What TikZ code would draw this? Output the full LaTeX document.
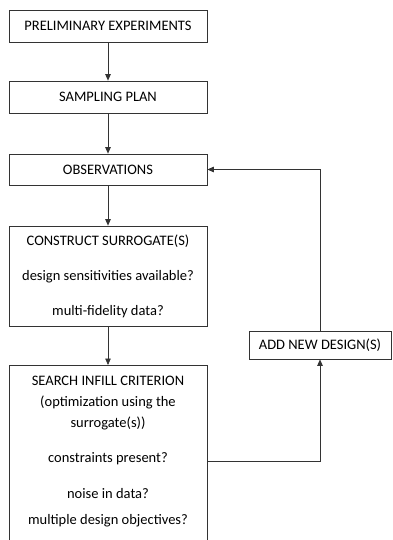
\documentclass[tikz,border=0pt]{standalone}
\usepackage{fontspec}
\setmainfont{Carlito}
\usetikzlibrary{arrows.meta}
\begin{document}
\begin{tikzpicture}[x=1pt,y=-1pt,
		box/.style={draw=black!80,line width=0.7pt,minimum width=198pt,inner sep=0pt,align=center,font=\fontsize{14.5}{21}\selectfont,text=black},
		flow/.style={draw=black!80,line width=0.7pt,-{Triangle[length=6.5pt,width=5.5pt]}}]
		\useasboundingbox (0,0) rectangle (392,540);
		\clip (0,0) rectangle (392,540);
		\node[box,minimum height=32pt] (prelim) at (108,26) {PRELIMINARY EXPERIMENTS};
		\node[box,minimum height=32pt] (sampling) at (108,97) {SAMPLING PLAN};
		\node[box,minimum height=31pt] (obs) at (108,169.5) {OBSERVATIONS};
		\node[box,minimum height=100pt] (construct) at (108,276) {CONSTRUCT SURROGATE(S)\\[14pt]design sensitivities available?\\[14pt]multi-fidelity data?};
		\node[box,inner ysep=10.5pt,anchor=north] (search) at (108,365) {SEARCH INFILL CRITERION\\(optimization using the\\surrogate(s))\\[14pt]constraints present?\\[15pt]noise in data?\\[5pt]multiple design objectives?\\[20pt]\mbox{}};
		\node[box,minimum width=142pt,minimum height=28pt] (addnew) at (320,345) {ADD NEW DESIGN(S)};
		\draw[flow] (prelim) -- (sampling);
		\draw[flow] (sampling) -- (obs);
		\draw[flow] (obs) -- (construct);
		\draw[flow] (construct) -- (search);
		\draw[flow] ([yshift=-96pt]search.north east) -| (addnew.south);
		\draw[flow] (addnew.north) |- (obs.east);
	\end{tikzpicture}
\end{document}
